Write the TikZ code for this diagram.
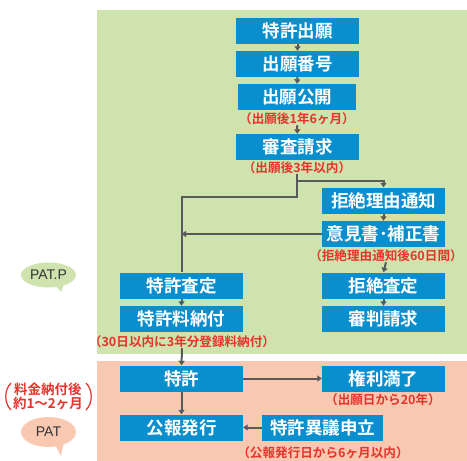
\documentclass[tikz,border=0pt]{standalone}
\usepackage{fontspec}
\newfontfamily\cjk{Noto Sans CJK JP}[BoldFont={Noto Sans CJK JP Bold}]
\setmainfont{Liberation Sans}
\usetikzlibrary{arrows.meta}
\definecolor{boxblue}{HTML}{0A8FCE}
\definecolor{panelgreen}{HTML}{CFE3AE}
\definecolor{panelpink}{HTML}{F8C8B1}
\definecolor{notered}{HTML}{E8332B}
\definecolor{conngray}{HTML}{595959}
\tikzset{
  stepbox/.style={fill=boxblue,text=white,font=\cjk\bfseries\fontsize{17.5}{17.5}\selectfont,
    minimum width=123pt,minimum height=26pt,inner sep=0pt},
  note/.style={text=notered,font=\cjk\bfseries\fontsize{12.6}{12.6}\selectfont,inner sep=0pt},
  conn/.style={draw=conngray,line width=2pt,-{Triangle[length=4.5pt,width=6pt]}},
  line/.style={draw=conngray,line width=2pt},
}
\begin{document}
\begin{tikzpicture}[x=1pt,y=-1pt]
\useasboundingbox (0,0) rectangle (467,461);
% panels
\fill[panelgreen] (97,10) rectangle (467,354);
\fill[panelpink] (97,361) rectangle (467,461);
% bubbles
\fill[panelgreen] (48.5,275) ellipse [x radius=27.5, y radius=12.5];
\fill[panelgreen] (54,284) -- (61,292) -- (64,283) -- cycle;
\node[font=\fontsize{14}{14}\selectfont,text=black!80] (patp) at (48.5,275) {PAT.P};
\fill[panelpink] (48.5,432) ellipse [x radius=27.5, y radius=15];
\fill[panelpink] (54,443) -- (61,456) -- (64,441) -- cycle;
\node[font=\fontsize{14}{14}\selectfont,text=black!80] (pat) at (48.5,432) {PAT};
% left note
\node[note,font=\cjk\bfseries\fontsize{13.5}{14}\selectfont,align=center] (leftnote) at (48,396.5) {料金納付後\\約1〜2ヶ月};
\draw[notered,line width=1.2pt] (11,383) .. controls (4,390) and (4,403) .. (11,410);
\draw[notered,line width=1.2pt] (86,383) .. controls (93,390) and (93,403) .. (86,410);
% boxes
\node[stepbox] (a1) at (297.5,31) {特許出願};
\node[stepbox] (a2) at (297.5,64) {出願番号};
\node[stepbox,minimum width=118pt] (a3) at (297,97) {出願公開};
\node[note] (l1) at (297,119) {（出願後1年6ヶ月）};
\node[stepbox] (a4) at (297.5,147) {審査請求};
\node[note] (l2) at (297,168) {（出願後3年以内）};
\node[stepbox] (r1) at (383.5,200.5) {拒絶理由通知};
\node[stepbox] (r2) at (383.5,234) {意見書･補正書};
\node[note] (l3) at (386,256) {（拒絶理由通知後60日間）};
\node[stepbox] (s1) at (181.5,285.5) {特許査定};
\node[stepbox] (r3) at (383.5,285.5) {拒絶査定};
\node[stepbox] (s2) at (181.5,319) {特許料納付};
\node[stepbox] (r4) at (383.5,319) {審判請求};
\node[note] (l4) at (182,342) {（30日以内に3年分登録料納付）};
\node[stepbox] (p1) at (181.5,378.5) {特許};
\node[stepbox] (p2) at (383.5,378.5) {権利満了};
\node[note] (l5) at (383,400) {（出願日から20年）};
\node[stepbox] (p3) at (181.5,427.5) {公報発行};
\node[stepbox,minimum width=121pt] (p4) at (322.5,427.5) {特許異議申立};
\node[note] (l6) at (323,453) {（公報発行日から6ヶ月以内）};
% connectors
\draw[conn] (a1.south) -- (a2.north);
\draw[conn] (a2.south) -- (a3.north);
\draw[conn] (l1.south) -- (a4.north);
\draw[line] (l2.south) -- (l2.south |- 0,197) -| (s1.north);
\draw[conn] (l2.south |- 0,181) -| (r1.north);
\draw[conn] (r1.south) -- (r2.north);
\draw[conn] (r2.west) -- (r2.west -| s1.north);
\draw[conn] (l3.south) -- (r3.north);
\draw[conn] (s1.south) -- (s2.north);
\draw[conn] (r3.south) -- (r4.north);
\draw[conn] (l4.south) -- (p1.north);
\draw[conn] (p1.east) -- (p2.west);
\draw[conn] (p1.south) -- (p3.north);
\draw[conn] (p4.west) -- (p3.east);
\end{tikzpicture}
\end{document}
